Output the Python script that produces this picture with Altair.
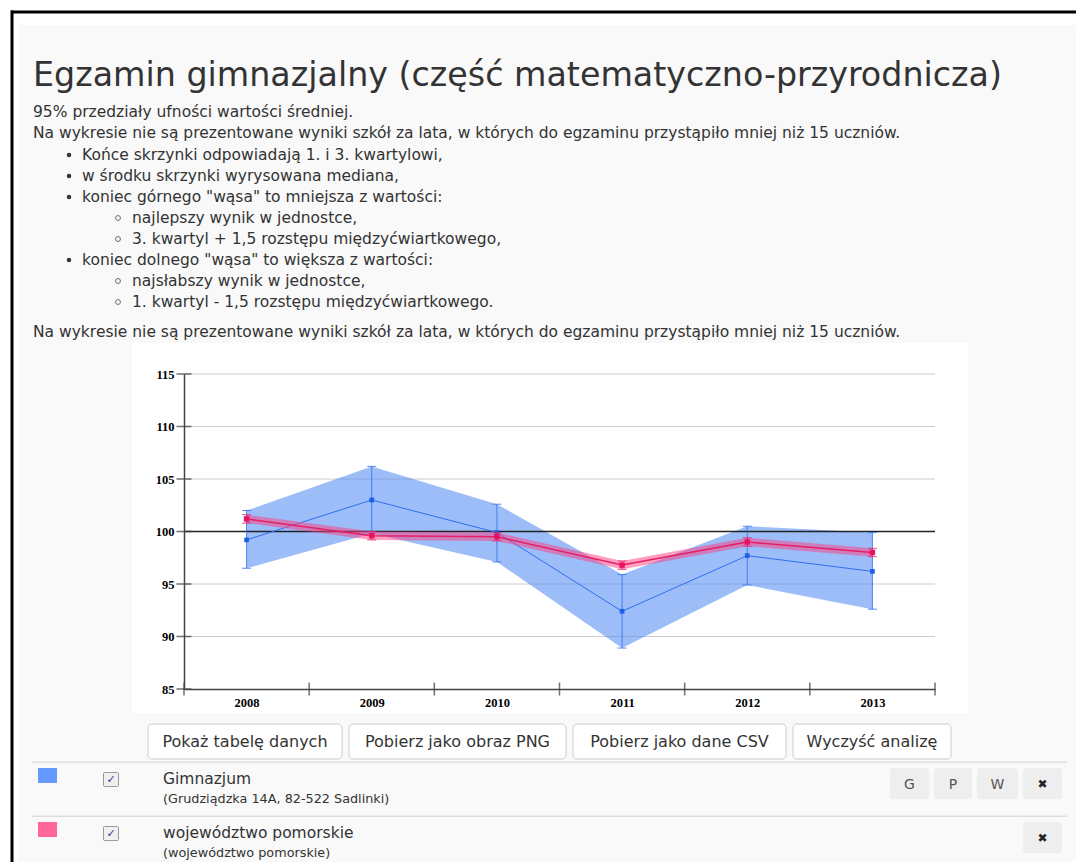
import altair as alt
import pandas as pd

# ---------------- data ----------------
years = [2008, 2009, 2010, 2011, 2012, 2013]
gim_mean = [99.2, 103.0, 99.9, 92.4, 97.7, 96.2]
gim_low = [96.5, 99.8, 97.1, 88.9, 94.9, 92.6]
gim_high = [102.0, 106.2, 102.6, 95.9, 100.5, 99.9]
woj_mean = [101.2, 99.6, 99.5, 96.8, 99.0, 98.0]
woj_low = [100.8, 99.2, 99.1, 96.4, 98.6, 97.6]
woj_high = [101.6, 100.0, 99.9, 97.2, 99.4, 98.4]
y_ticks = [85, 90, 95, 100, 105, 110, 115]
grid_values = [90, 95, 105, 110, 115]
x_bounds = [2007.5, 2008.5, 2009.5, 2010.5, 2011.5, 2012.5, 2013.5]

title_text = "Egzamin gimnazjalny (część matematyczno-przyrodnicza)"
intro_lines = [
    "95% przedziały ufności wartości średniej.",
    "Na wykresie nie są prezentowane wyniki szkół za lata, w których do egzaminu przystąpiło mniej niż 15 uczniów.",
]
bullets = [
    (1, "Końce skrzynki odpowiadają 1. i 3. kwartylowi,"),
    (1, "w środku skrzynki wyrysowana mediana,"),
    (1, "koniec górnego \"wąsa\" to mniejsza z wartości:"),
    (2, "najlepszy wynik w jednostce,"),
    (2, "3. kwartyl + 1,5 rozstępu międzyćwiartkowego,"),
    (1, "koniec dolnego \"wąsa\" to większa z wartości:"),
    (2, "najsłabszy wynik w jednostce,"),
    (2, "1. kwartyl - 1,5 rozstępu międzyćwiartkowego."),
]
note_line = "Na wykresie nie są prezentowane wyniki szkół za lata, w których do egzaminu przystąpiło mniej niż 15 uczniów."
button_labels = ["Pokaż tabelę danych", "Pobierz jako obraz PNG", "Pobierz jako dane CSV", "Wyczyść analizę"]
series_names = ["Gimnazjum", "województwo pomorskie"]
series_sub = ["(Grudziądzka 14A, 82-522 Sadlinki)", "(województwo pomorskie)"]
series_colors = ["#6699ff", "#ff6699"]

# ---------------- layout ----------------
X0, Y0 = 184, 374          # plot origin in page coordinates
W, H = 751, 315
FONT = "DejaVu Sans"
TXT = "#333333"


def px(x):
    return x - X0


def py(y):
    return y - Y0


one = pd.DataFrame({"k": [0]})


def box(x1, y1, x2, y2, fill, stroke=None, sw=1, r=0):
    kw = dict(fill=fill, cornerRadius=r, opacity=1)
    if stroke:
        kw.update(stroke=stroke, strokeWidth=sw)
    else:
        kw.update(strokeWidth=0)
    return alt.Chart(one).mark_rect(**kw).encode(
        x=alt.value(px(x1)), x2=alt.value(px(x2)),
        y=alt.value(py(y1)), y2=alt.value(py(y2)))


def label(s, x, y, size, color=TXT, align="left", font=FONT, weight="normal", baseline="alphabetic"):
    return alt.Chart(one).mark_text(
        text=s, align=align, baseline=baseline, fontSize=size, font=font,
        fontWeight=weight, color=color).encode(x=alt.value(px(x)), y=alt.value(py(y)))


def dot(x, y, filled=True):
    if filled:
        m = alt.Chart(one).mark_circle(size=20, color=TXT, opacity=1)
    else:
        m = alt.Chart(one).mark_point(shape="circle", size=24, filled=False, color=TXT, strokeWidth=1)
    return m.encode(x=alt.value(px(x)), y=alt.value(py(y)))


layers = []
# page decoration
layers.append(box(11, 10.5, 1090, 13.5, "#000000"))
layers.append(box(10.5, 10.5, 13.5, 900, "#000000"))
layers.append(box(19, 25, 1080, 900, "#f9f9f9"))
layers.append(box(132, 343, 968, 713, "#ffffff"))

# header text
layers.append(label(title_text, 33, 86, 33.3))
BODY = 15.5
layers.append(label(intro_lines[0], 33, 117, BODY))
layers.append(label(intro_lines[1], 33, 138, BODY))
base = 160
for i, (lvl, s) in enumerate(bullets):
    yb = base + i * 21
    if lvl == 1:
        layers.append(dot(69, yb - 5, True))
        layers.append(label(s, 82, yb, BODY))
    else:
        layers.append(dot(118, yb - 5, False))
        layers.append(label(s, 132, yb, BODY))
layers.append(label(note_line, 33, 337, BODY))

# ---------------- chart ----------------
XS = alt.Scale(domain=[2007.5, 2013.5], nice=False, zero=False)
YS = alt.Scale(domain=[85, 115], nice=False, zero=False)
XA = alt.Axis(values=years, format="d", title=None, grid=False, ticks=False, tickSize=0,
              domainColor="#444444", domainWidth=1.5, labelFont="Liberation Serif",
              labelFontWeight="bold", labelFontSize=12.5, labelColor="#000000",
              labelPadding=7, zindex=1)
YA = alt.Axis(values=y_ticks, title=None, grid=False, ticks=False, tickSize=0,
              domainColor="#444444", domainWidth=1.5, labelFont="Liberation Serif",
              labelFontWeight="bold", labelFontSize=12.5, labelColor="#000000",
              labelPadding=10, zindex=1)


def X(f):
    return alt.X(f, type="quantitative", scale=XS, axis=XA)


def Y(f):
    return alt.Y(f, type="quantitative", scale=YS, axis=YA)


gdf = pd.DataFrame({"year": years, "mean": gim_mean, "low": gim_low, "high": gim_high})
wdf = pd.DataFrame({"year": years, "mean": woj_mean, "low": woj_low, "high": woj_high})

layers.append(alt.Chart(pd.DataFrame({"v": grid_values})).mark_rule(color="#cccccc", strokeWidth=1)
              .encode(y=Y("v")))

BLUE_FILL = "#4a86f3"
BLUE = "#2f6ff0"
layers.append(alt.Chart(gdf).mark_area(color=BLUE_FILL, opacity=0.55).encode(x=X("year"), y=Y("low"), y2="high"))
layers.append(alt.Chart(one).mark_rule(color="#222222", strokeWidth=1.5).encode(y=alt.Y(datum=100, scale=YS, axis=YA)))
layers.append(alt.Chart(gdf).mark_rule(color=BLUE, strokeWidth=1, opacity=0.8).encode(x=X("year"), y=Y("low"), y2="high"))
layers.append(alt.Chart(gdf).mark_tick(orient="horizontal", size=9, thickness=1, color=BLUE, opacity=0.8).encode(x=X("year"), y=Y("low")))
layers.append(alt.Chart(gdf).mark_tick(orient="horizontal", size=9, thickness=1, color=BLUE, opacity=0.8).encode(x=X("year"), y=Y("high")))
layers.append(alt.Chart(gdf).mark_line(color=BLUE, strokeWidth=1).encode(x=X("year"), y=Y("mean")))
layers.append(alt.Chart(gdf).mark_square(size=22, color="#1f5fe8", opacity=1).encode(x=X("year"), y=Y("mean")))

PINK_FILL = "#ff3d80"
PINK = "#e61e66"
layers.append(alt.Chart(wdf).mark_area(color=PINK_FILL, opacity=0.5).encode(x=X("year"), y=Y("low"), y2="high"))
layers.append(alt.Chart(wdf).mark_line(color=PINK, strokeWidth=1.5).encode(x=X("year"), y=Y("mean")))
layers.append(alt.Chart(wdf).mark_rule(color=PINK, strokeWidth=1, opacity=0.8).encode(x=X("year"), y=Y("low"), y2="high"))
layers.append(alt.Chart(wdf).mark_tick(orient="horizontal", size=9, thickness=1, color=PINK, opacity=0.8).encode(x=X("year"), y=Y("low")))
layers.append(alt.Chart(wdf).mark_tick(orient="horizontal", size=9, thickness=1, color=PINK, opacity=0.8).encode(x=X("year"), y=Y("high")))
layers.append(alt.Chart(wdf).mark_square(size=30, color="#e8125f", opacity=1).encode(x=X("year"), y=Y("mean")))

# axis ticks crossing the axis lines
layers.append(alt.Chart(pd.DataFrame({"v": y_ticks})).mark_tick(orient="horizontal", size=15, thickness=1.5, color="#333333")
              .encode(x=alt.value(0), y=Y("v")))
layers.append(alt.Chart(pd.DataFrame({"b": x_bounds})).mark_tick(orient="vertical", size=13, thickness=1.5, color="#333333")
              .encode(x=X("b"), y=alt.value(H)))

# ---------------- footer ----------------
btn_boxes = [(148, 342), (349, 566), (573, 786), (793, 951)]
for (bx1, bx2), s in zip(btn_boxes, button_labels):
    layers.append(box(bx1, 724, bx2, 759, "#ffffff", stroke="#cccccc", sw=1, r=4))
    layers.append(label(s, (bx1 + bx2) / 2, 746.5, 16, align="center"))

layers.append(box(32, 761.5, 1067, 763, "#dddddd"))
layers.append(box(32, 815.5, 1067, 817, "#dddddd"))

row_y = [768, 822]
for i in range(2):
    ry = row_y[i]
    layers.append(box(38, ry, 57, ry + 15, series_colors[i]))
    layers.append(box(103.5, ry + 4.5, 118.5, ry + 18.5, "#f0f0f0", stroke="#999999", sw=1, r=1))
    layers.append(label("✓", 111, ry + 12, 11, color="#2b3a8c", align="center", baseline="middle"))
    layers.append(label(series_names[i], 163, ry + 16, 15.5))
    layers.append(label(series_sub[i], 163, ry + 35, 12.8))

gp = [("G", 890, 929), ("P", 934, 972), ("W", 977, 1018)]
for s, bx1, bx2 in gp:
    layers.append(box(bx1, 768, bx2, 799, "#eeeeee", r=3))
    layers.append(label(s, (bx1 + bx2) / 2, 789, 14, color="#555555", align="center"))
for ry in row_y:
    layers.append(box(1023, ry, 1062, ry + 31, "#eeeeee", r=3))
    layers.append(label("✖", 1042.5, ry + 16, 12, color="#222222", align="center", baseline="middle"))

chart = alt.layer(*layers).properties(
    width=W, height=H,
    padding={"left": X0 - 8, "top": Y0 - 8, "right": 1076 - X0 - W, "bottom": 180},
    autosize=alt.AutoSizeParams(type="none"),
    background="white",
).configure_view(stroke=None)

chart.save("out.html", embed_options={"renderer": "svg", "actions": False})
